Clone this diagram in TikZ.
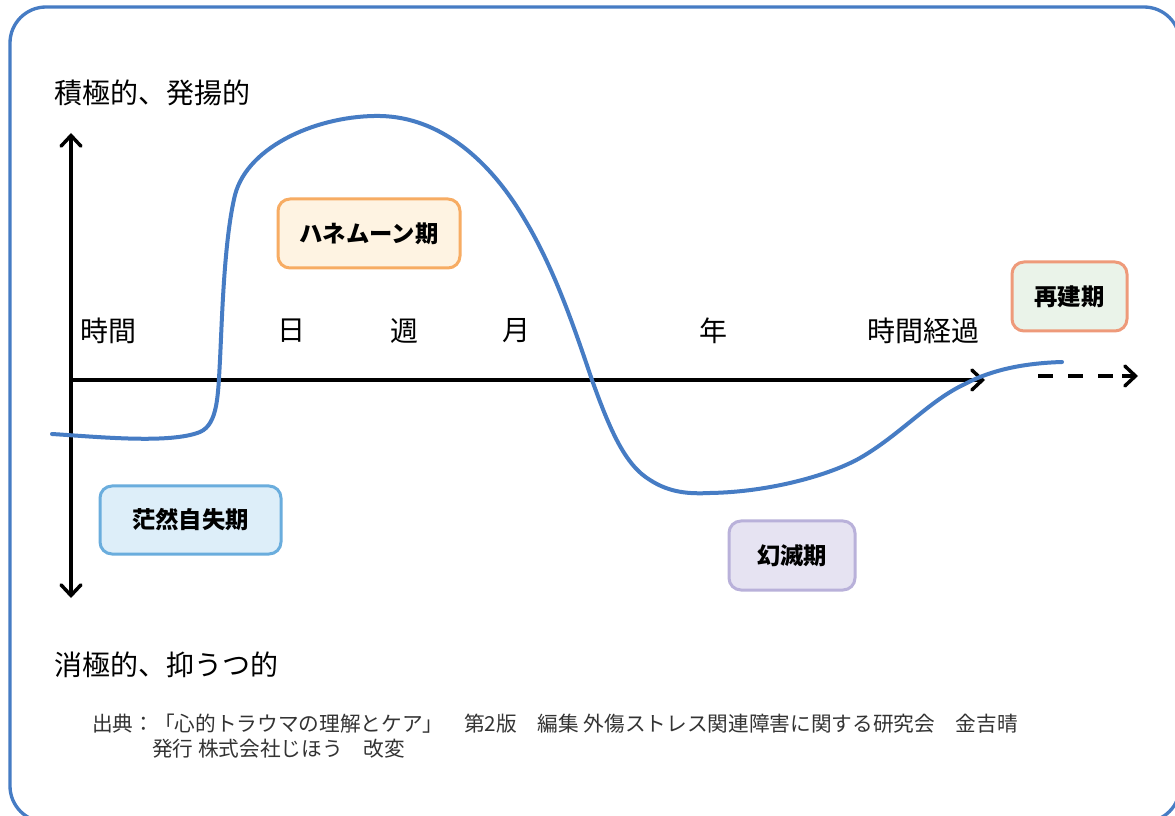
\documentclass[tikz,border=0pt]{standalone}
\usepackage{fontspec}
\setmainfont{Noto Sans CJK JP}
\usetikzlibrary{arrows.meta}
\definecolor{frameblue}{RGB}{70,124,196}
\definecolor{curveblue}{RGB}{70,124,196}
\definecolor{hmfill}{HTML}{FEF3E2}\definecolor{hmdraw}{HTML}{F7AC63}
\definecolor{bzfill}{HTML}{DDEEF9}\definecolor{bzdraw}{HTML}{6AADDD}
\definecolor{gmfill}{HTML}{E6E3F2}\definecolor{gmdraw}{HTML}{B9B1DA}
\definecolor{skfill}{HTML}{EAF3E9}\definecolor{skdraw}{HTML}{EE9A7A}
\tikzset{
  phasebox/.style={draw, line width=2.25pt, rounded corners=9pt, font=\fontsize{17.5}{20}\selectfont\bfseries, inner sep=0pt},
  axisline/.style={line width=2.6pt, black},
  tip/.style={-{Straight Barb[length=8pt,width=15pt,line width=2.6pt,line cap=round]}},
  biglabel/.style={font=\fontsize{21}{24}\selectfont, inner sep=0pt},
  timelabel/.style={font=\fontsize{21}{24}\selectfont, inner sep=0pt},
  citelabel/.style={font=\fontsize{15.5}{18}\selectfont, inner sep=0pt, anchor=west, text=black!80},
}
\begin{document}
\begin{tikzpicture}[x=0.75pt,y=-0.75pt]
\path[use as bounding box] (0,0) rectangle (1175,816);
\clip (0,0) rectangle (1175,816);
\fill[white] (0,0) rectangle (1175,816);
% frame
\draw[frameblue, line width=2.5pt, rounded corners=27pt] (10,7) rectangle (1180,822);
% axes
\coordinate (ytop) at (71,133);
\coordinate (ybot) at (71,598);
\coordinate (orig) at (71,380);
\coordinate (xend) at (985,380);
\coordinate (dstart) at (1038,376);
\coordinate (dmid) at (1114,376);
\coordinate (dend) at (1138,376);
\draw[axisline, tip] (orig) -- (ytop);
\draw[axisline, tip] (orig) -- (ybot);
\draw[axisline, tip] (orig) -- (xend);
\draw[axisline, dash pattern=on 11.5pt off 11pt] (dstart) -- (dmid);
\draw[axisline, tip] (1122,376) -- (dend);
% labels
\node[biglabel, anchor=west] (pos) at (54,93) {積極的、発揚的};
\node[biglabel, anchor=west] (neg) at (54,665) {消極的、抑うつ的};
\node[timelabel] (t0) at (108,331) {時間};
\node[timelabel] (t1) at (291,331) {日};
\node[timelabel] (t2) at (404,331) {週};
\node[timelabel] (t3) at (516,331) {月};
\node[timelabel] (t4) at (713,331) {年};
\node[timelabel] (t5) at (923,331) {時間経過};
% curve
\draw[curveblue, line width=3pt, line cap=round]
  (52,434) .. controls (100,437) and (170,444) .. (200,432)
  .. controls (218,424) and (218,395) .. (220,360)
  .. controls (222,320) and (224,240) .. (235,195)
  .. controls (248,145) and (320,115) .. (380,116)
  .. controls (440,117) and (490,160) .. (525,220)
  .. controls (555,270) and (575,330) .. (592,380)
  .. controls (610,430) and (625,465) .. (650,480)
  .. controls (670,493) and (690,494) .. (710,493)
  .. controls (770,492) and (830,475) .. (860,458)
  .. controls (900,435) and (930,400) .. (965,384)
  .. controls (995,368) and (1030,363) .. (1062,362);
% phase boxes
\node[phasebox, fill=hmfill, draw=hmdraw, minimum width=136.5pt, minimum height=51.75pt] (hm) at (369,233.5) {ハネムーン期};
\node[phasebox, fill=bzfill, draw=bzdraw, minimum width=135.75pt, minimum height=51pt] (bz) at (190.5,520) {茫然自失期};
\node[phasebox, fill=gmfill, draw=gmdraw, minimum width=94.5pt, minimum height=51.75pt] (gm) at (792,555.5) {幻滅期};
\node[phasebox, fill=skfill, draw=skdraw, minimum width=86.25pt, minimum height=51.75pt] (sk) at (1069.5,296.5) {再建期};
% citation
\node[citelabel] (c1) at (92,724) {出典：「心的トラウマの理解とケア」　第2版　編集 外傷ストレス関連障害に関する研究会　金吉晴};
\node[citelabel] (c2) at (152,749) {発行 株式会社じほう　改変};
\end{tikzpicture}
\end{document}
